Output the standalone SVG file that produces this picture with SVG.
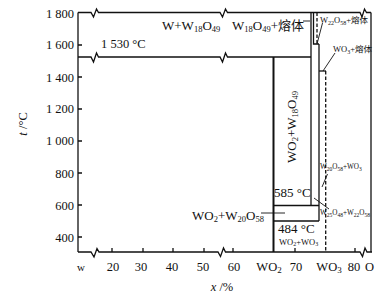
<svg xmlns="http://www.w3.org/2000/svg" width="391" height="299" viewBox="0 0 391 299">
<style>
  text { font-family: "Liberation Serif", "Noto Sans CJK SC", serif; fill: #111; }
  .ln { stroke: #111; stroke-width: 1.3; fill: none; }
  .thick { stroke: #111; stroke-width: 2; fill: none; }
  .dash { stroke: #111; stroke-width: 1.3; fill: none; stroke-dasharray: 3.5 2; }
  .thin { stroke: #111; stroke-width: 0.9; fill: none; }
  .ax { font-size: 12.5px; }
  .lab { font-size: 13px; }
  .sm { font-size: 8.5px; }
  .xs { font-size: 7.2px; }
</style>
<rect x="0" y="0" width="391" height="299" fill="#fff"/>

<g id="axes">
  <path class="ln" d="M78 12.5 V252"/>
  <path class="ln" d="M371 12.5 V252"/>
  <path class="ln" d="M78 12.5 H91 L93.5 17 L96.5 9 L98.5 12.5 H220 L222.5 17 L225.5 9 L227.5 12.5 H360 L362 17 L364.5 9 L366.5 12.5 H371"/>
  <path class="ln" d="M78 252 H91 L94 257 L97 248.5 L99 252 H218 L220.5 256.5 L223.5 248 L225.5 252 H360 L362.5 256.5 L365 248 L367 252 H372"/>
  <path class="ln" d="M78 45 h4 M78 77 h4 M78 109 h4 M78 141 h4 M78 173 h4 M78 205 h4 M78 237 h4"/>
  <path class="ln" d="M112 252 v-4 M143 252 v-4 M173 252 v-4 M204 252 v-4 M233 252 v-4 M295 252 v-4 M355 252 v-4"/>
  <g class="ax" text-anchor="end">
    <text x="74" y="18">1 800</text>
    <text x="74" y="49">1 600</text>
    <text x="74" y="81.5">1 400</text>
    <text x="74" y="113">1 200</text>
    <text x="74" y="145">1 000</text>
    <text x="74" y="177.5">800</text>
    <text x="74" y="209.5">600</text>
    <text x="74" y="241.5">400</text>
  </g>
  <g class="ax" text-anchor="middle">
    <text x="81" y="271" font-size="11">w</text>
    <text x="113" y="271">20</text>
    <text x="141" y="271">30</text>
    <text x="172" y="271">40</text>
    <text x="203" y="271">50</text>
    <text x="234" y="271">60</text>
    <text x="269" y="271">WO<tspan font-size="9" dy="1.5">2</tspan></text>
    <text x="296" y="271">70</text>
    <text x="329" y="271">WO<tspan font-size="9" dy="1.5">3</tspan></text>
    <text x="354" y="271">80</text>
    <text x="369.5" y="271">O</text>
  </g>
  <text class="ax" transform="translate(27,124) rotate(-90)" text-anchor="middle"><tspan font-style="italic">t</tspan> /°C</text>
  <text class="ax" x="222" y="291" text-anchor="middle"><tspan font-style="italic">x</tspan> /%</text>
</g>

<g id="connectors">
  <path class="ln" d="M78 57 H91 L93.5 62 L96.5 53 L98.5 57 H220 L222.5 62 L225.5 53 L227.5 57 H311"/>
  <path class="thick" d="M273.5 57 V252"/>
  <path class="ln" d="M311 12.5 V205.5"/>
  <path class="ln" d="M313.5 12.5 V44 H319"/>
  <path class="dash" d="M317 12.5 V44"/>
  <path class="ln" d="M319 44 V221"/>
  <path class="ln" d="M319 71 H326"/>
  <path class="dash" d="M325.7 71 V252"/>
  <path class="ln" d="M273.5 205.5 H319"/>
  <path class="ln" d="M273.5 221 H319"/>
  <path class="thin" d="M303 21 H310"/>
  <path class="thin" d="M322.5 23 L317 44"/>
  <path class="thin" d="M335 53 L323 71"/>
  <path class="thin" d="M327.5 174 L322 187"/>
  <path class="thin" d="M314 198 L329 209"/>
  <path class="thin" d="M261 213 H285"/>
</g>

<g id="labels">
  <text class="lab" x="162" y="30">W+W<tspan font-size="8.5" dy="2">18</tspan><tspan dy="-2">O</tspan><tspan font-size="8.5" dy="2">49</tspan></text>
  <text class="lab" x="232" y="30">W<tspan font-size="8.5" dy="2">18</tspan><tspan dy="-2">O</tspan><tspan font-size="8.5" dy="2">49</tspan><tspan dy="-2">+熔体</tspan></text>
  <text class="ax" x="101" y="48">1 530 °C</text>
  <text class="lab" transform="translate(296,163) rotate(-90)">WO<tspan font-size="8.5" dy="2">2</tspan><tspan dy="-2">+W</tspan><tspan font-size="8.5" dy="2">18</tspan><tspan dy="-2">O</tspan><tspan font-size="8.5" dy="2">49</tspan></text>
  <text class="sm" x="320" y="23">W<tspan font-size="6" dy="1.5">22</tspan><tspan dy="-1.5">O</tspan><tspan font-size="6" dy="1.5">58</tspan><tspan dy="-1.5">+熔体</tspan></text>
  <text class="sm" x="333" y="52">WO<tspan font-size="6" dy="1.5">3</tspan><tspan dy="-1.5">+熔体</tspan></text>
  <text class="xs" x="320" y="169">W<tspan font-size="5.5" dy="1.5">20</tspan><tspan dy="-1.5">O</tspan><tspan font-size="5.5" dy="1.5">58</tspan><tspan dy="-1.5">+WO</tspan><tspan font-size="5.5" dy="1.5">3</tspan></text>
  <text class="xs" x="320" y="215" textLength="50" lengthAdjust="spacingAndGlyphs">W<tspan font-size="5.5" dy="1.5">25</tspan><tspan dy="-1.5">O</tspan><tspan font-size="5.5" dy="1.5">48</tspan><tspan dy="-1.5">+W</tspan><tspan font-size="5.5" dy="1.5">22</tspan><tspan dy="-1.5">O</tspan><tspan font-size="5.5" dy="1.5">58</tspan></text>
  <text class="lab" x="274" y="197">585 °C</text>
  <text class="lab" x="278" y="233">484 °C</text>
  <text class="sm" x="279" y="244.5">WO<tspan font-size="6" dy="1.5">2</tspan><tspan dy="-1.5">+WO</tspan><tspan font-size="6" dy="1.5">3</tspan></text>
  <text class="lab" x="192" y="220">WO<tspan font-size="8.5" dy="2">2</tspan><tspan dy="-2">+W</tspan><tspan font-size="8.5" dy="2">20</tspan><tspan dy="-2">O</tspan><tspan font-size="8.5" dy="2">58</tspan></text>
</g>
</svg>
